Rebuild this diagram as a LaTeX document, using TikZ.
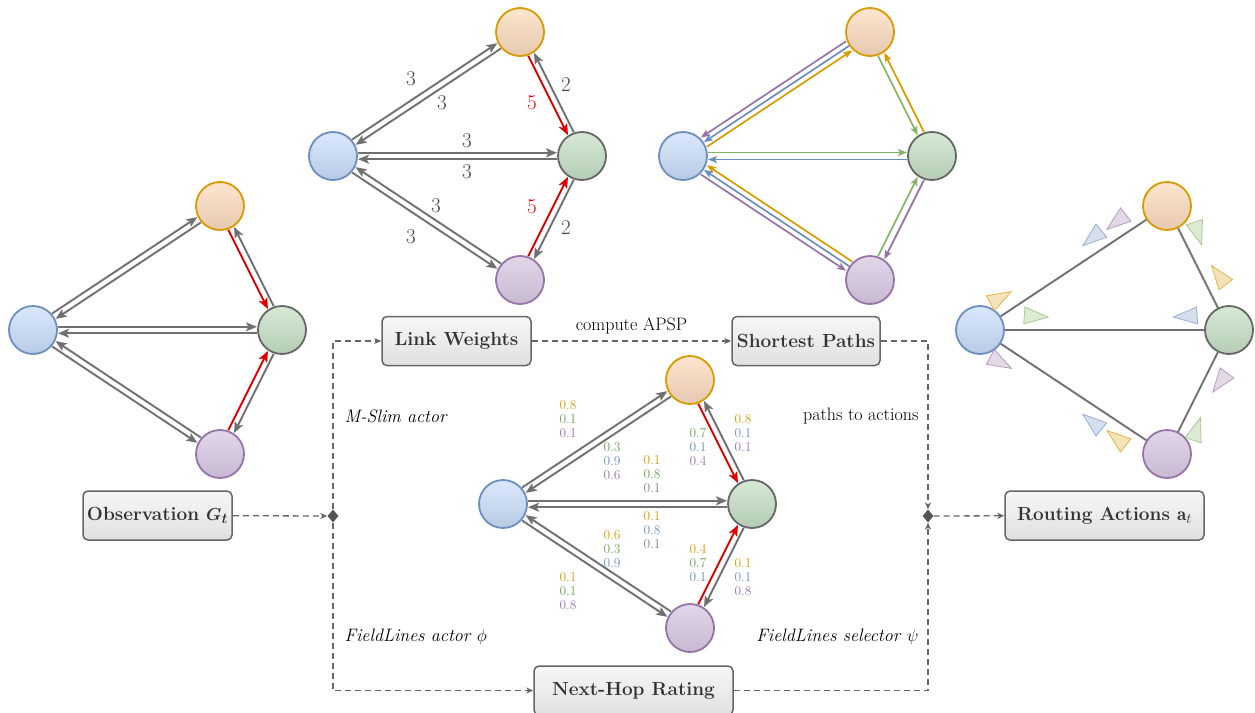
\documentclass[tikz,border=0pt]{standalone}
\usepackage{amsmath}
\usepackage{fontspec}
\usetikzlibrary{arrows.meta,calc,shapes.geometric}
\definecolor{cO}{RGB}{215,155,0}
\definecolor{cB}{RGB}{108,142,191}
\definecolor{cG}{RGB}{130,179,102}
\definecolor{cP}{RGB}{150,115,166}
\definecolor{nG}{RGB}{102,102,102}
\definecolor{eg}{RGB}{112,112,112}
\definecolor{eR}{RGB}{225,0,0}
\definecolor{txt}{RGB}{51,51,51}
\definecolor{numG}{RGB}{110,160,85}
\newcommand{\dedge}[4][]{\draw[edge,#1] ($(#2)!#4!90:(#3)$) -- ($(#3)!#4!-90:(#2)$);}
\newcommand{\grayedges}[1]{%
 \dedge{#1b}{#1o}{3.2pt}\dedge{#1o}{#1b}{3.2pt}%
 \dedge{#1b}{#1g}{3.2pt}\dedge{#1g}{#1b}{3.2pt}%
 \dedge{#1b}{#1p}{-3.2pt}\dedge{#1p}{#1b}{-3.2pt}%
 \dedge[draw=eR]{#1o}{#1g}{-3.2pt}\dedge{#1g}{#1o}{-3.2pt}%
 \dedge[draw=eR]{#1p}{#1g}{3.2pt}\dedge{#1g}{#1p}{3.2pt}}
\newcommand{\rtri}[5]{%
 \coordinate (tq) at ($(#2)!#4!(#3)$);
 \coordinate (tc) at ($(tq)!#5!90:(#3)$);
 \coordinate (tb) at ($(tc)!8pt!180:(#3)$);
 \draw[tri=#1] ($(tc)!16pt!(#3)$) -- ($(tb)!8.5pt!90:(#3)$) -- ($(tb)!8.5pt!-90:(#3)$) -- cycle;}
\newcommand{\graphnodes}[3]{%
 \node[nb] (#1b) at (#2,#3) {};
 \node[no] (#1o) at ($(#2,#3)+(187,-124)$) {};
 \node[ng] (#1g) at ($(#2,#3)+(249,0)$) {};
 \node[np] (#1p) at ($(#2,#3)+(187,124)$) {};}
\begin{document}
\begin{tikzpicture}[x=1pt,y=-1pt,
  nd/.style={circle, minimum size=48pt, inner sep=0pt, line width=1.8pt},
  nb/.style={nd, draw=cB, top color={rgb,255:red,218;green,232;blue,252}, bottom color={rgb,255:red,184;green,203;blue,228}},
  no/.style={nd, draw=cO, top color={rgb,255:red,253;green,229;blue,205}, bottom color={rgb,255:red,230;green,200;blue,176}},
  ng/.style={nd, draw=nG, top color={rgb,255:red,214;green,233;blue,212}, bottom color={rgb,255:red,180;green,204;blue,180}},
  np/.style={nd, draw=cP, top color={rgb,255:red,226;green,214;blue,232}, bottom color={rgb,255:red,200;green,185;blue,210}},
  edge/.style={draw=eg, line width=1.9pt, -{Stealth[length=11pt,width=9pt,inset=2.5pt]}, shorten <=25pt, shorten >=25pt},
  pedge/.style={edge, line width=1.7pt, -{Stealth[length=9pt,width=7pt,inset=2pt]}},
  plain/.style={draw=eg, line width=1.9pt},
  tri/.style={draw=#1, draw opacity=0.65, fill=#1!28, line width=0.8pt},
  box/.style={draw=nG, line width=1.5pt, rounded corners=5pt, top color={rgb,255:red,247;green,247;blue,247}, bottom color={rgb,255:red,224;green,224;blue,224}, minimum height=49pt, inner sep=0pt, text=txt, font=\fontsize{19}{23}\selectfont\bfseries},
  dsh/.style={draw=nG, line width=1.3pt, dash pattern=on 6pt off 4pt, -{Stealth[length=7pt,width=6pt,inset=2pt]}},
  jn/.style={diamond, fill={rgb,255:red,85;green,85;blue,85}, inner sep=0pt, minimum width=11pt, minimum height=13pt},
  lbl/.style={text=black, font=\fontsize{18}{21}\selectfont},
  wt/.style={text={rgb,255:red,68;green,68;blue,68}, font=\fontsize{21}{25}\selectfont, inner sep=0pt},
  wr/.style={wt, text=eR},
  nums/.style={align=center, inner sep=0pt, font=\fontsize{13.5}{14}\selectfont}
]
\useasboundingbox (0,0) rectangle (1255,712);

% ---- node graphs
\graphnodes{L}{33}{330}
\graphnodes{M}{333}{156}
\graphnodes{P}{683}{156}
\graphnodes{R}{980}{330}
\graphnodes{C}{503}{504}

% ---- gray double edges
\grayedges{L}
\grayedges{M}
\grayedges{C}

% ---- link weight labels
\node[wt] (w1) at (411,79) {3};
\node[wt] (w2) at (442,103) {3};
\node[wt] (w3) at (467,141) {3};
\node[wt] (w4) at (467,172) {3};
\node[wt] (w5) at (436,206) {3};
\node[wt] (w6) at (411,237) {3};
\node[wr] (w7) at (532,103) {5};
\node[wt] (w8) at (566,85) {2};
\node[wr] (w9) at (532,207) {5};
\node[wt] (w10) at (566,228) {2};

% ---- shortest paths (coloured)
\dedge[pedge,draw=cP]{Po}{Pb}{-5.5pt}
\dedge[pedge,draw=cB]{Po}{Pb}{0pt}
\dedge[pedge,draw=cO]{Pb}{Po}{-5.5pt}
\dedge[pedge,draw=cG]{Po}{Pg}{-3.5pt}
\dedge[pedge,draw=cO]{Pg}{Po}{-3.5pt}
\dedge[pedge,draw=cG]{Pb}{Pg}{3.5pt}
\dedge[pedge,draw=cB]{Pg}{Pb}{3.5pt}
\dedge[pedge,draw=cO]{Pp}{Pb}{-5.5pt}
\dedge[pedge,draw=cB]{Pp}{Pb}{0pt}
\dedge[pedge,draw=cP]{Pb}{Pp}{-5.5pt}
\dedge[pedge,draw=cG]{Pp}{Pg}{3.5pt}
\dedge[pedge,draw=cP]{Pg}{Pp}{3.5pt}

% ---- routing actions graph
\draw[plain] (Rb) -- (Ro);
\draw[plain] (Rb) -- (Rg);
\draw[plain] (Rb) -- (Rp);
\draw[plain] (Ro) -- (Rg);
\draw[plain] (Rp) -- (Rg);
\rtri{cO}{Rb}{Ro}{0.14}{16pt}
\rtri{cB}{Ro}{Rb}{0.34}{-15pt}
\rtri{cP}{Ro}{Rb}{0.21}{-15pt}
\rtri{cG}{Rb}{Rg}{0.21}{14pt}
\rtri{cB}{Rg}{Rb}{0.16}{-14pt}
\rtri{cP}{Rb}{Rp}{0.14}{-16pt}
\rtri{cB}{Rp}{Rb}{0.34}{15pt}
\rtri{cO}{Rp}{Rb}{0.21}{15pt}
\rtri{cG}{Ro}{Rg}{0.25}{16pt}
\rtri{cO}{Rg}{Ro}{0.36}{-16pt}
\rtri{cP}{Rg}{Rp}{0.34}{16pt}
\rtri{cG}{Rp}{Rg}{0.23}{-16pt}

% ---- next-hop ratings
\node[nums] (n1) at (568,419) {\textcolor{cO}{0.8}\\\textcolor{numG}{0.1}\\\textcolor{cP}{0.1}};
\node[nums] (n2) at (612,461) {\textcolor{numG}{0.3}\\\textcolor{cB}{0.9}\\\textcolor{cP}{0.6}};
\node[nums] (n3) at (652,474) {\textcolor{cO}{0.1}\\\textcolor{numG}{0.8}\\\textcolor{cP}{0.1}};
\node[nums] (n4) at (698,447) {\textcolor{numG}{0.7}\\\textcolor{cB}{0.1}\\\textcolor{cP}{0.4}};
\node[nums] (n5) at (743,433) {\textcolor{cO}{0.8}\\\textcolor{cB}{0.1}\\\textcolor{cP}{0.1}};
\node[nums] (n6) at (652,530) {\textcolor{cO}{0.1}\\\textcolor{cB}{0.8}\\\textcolor{cP}{0.1}};
\node[nums] (n7) at (612,549) {\textcolor{cO}{0.6}\\\textcolor{numG}{0.3}\\\textcolor{cB}{0.9}};
\node[nums] (n8) at (698,563) {\textcolor{cO}{0.4}\\\textcolor{numG}{0.7}\\\textcolor{cB}{0.1}};
\node[nums] (n9) at (743,577) {\textcolor{cO}{0.1}\\\textcolor{cB}{0.1}\\\textcolor{cP}{0.8}};
\node[nums] (n10) at (568,591) {\textcolor{cO}{0.1}\\\textcolor{numG}{0.1}\\\textcolor{cP}{0.8}};

% ---- boxes
\node[box, minimum width=149pt] (obs) at (157.5,515.5) {Observation $\boldsymbol{G_t}$};
\node[box, minimum width=149pt] (lw) at (456.5,341) {Link Weights};
\node[box, minimum width=148pt] (sp) at (806,341) {Shortest Paths};
\node[box, minimum width=199pt] (nh) at (633.5,690.5) {Next-Hop Rating};
\node[box, minimum width=199pt] (ra) at (1104.5,515.5) {Routing Actions $\mathbf{a}_t$};
\node[jn] (dl) at (333,516) {};
\node[jn] (dr) at (928,516) {};

% ---- dashed flow
\draw[dsh] (obs) -- (dl);
\draw[dsh] (dl) |- (lw);
\draw[dsh] (dl) |- (nh);
\draw[dsh] (lw) -- node[lbl, above=3pt] {compute APSP} (sp);
\draw[dsh] (sp) -| (dr);
\draw[dsh] (nh) -| (dr);
\draw[dsh] (dr) -- (ra);

% ---- labels
\node[lbl, anchor=west] (l1) at (341,416) {\textit{M-Slim actor}};
\node[lbl, anchor=west] (l2) at (341,637) {\textit{FieldLines actor} $\phi$};
\node[lbl, anchor=east] (l3) at (922,416) {paths to actions};
\node[lbl, anchor=east] (l4) at (922,637) {\textit{FieldLines selector} $\psi$};
\end{tikzpicture}
\end{document}
